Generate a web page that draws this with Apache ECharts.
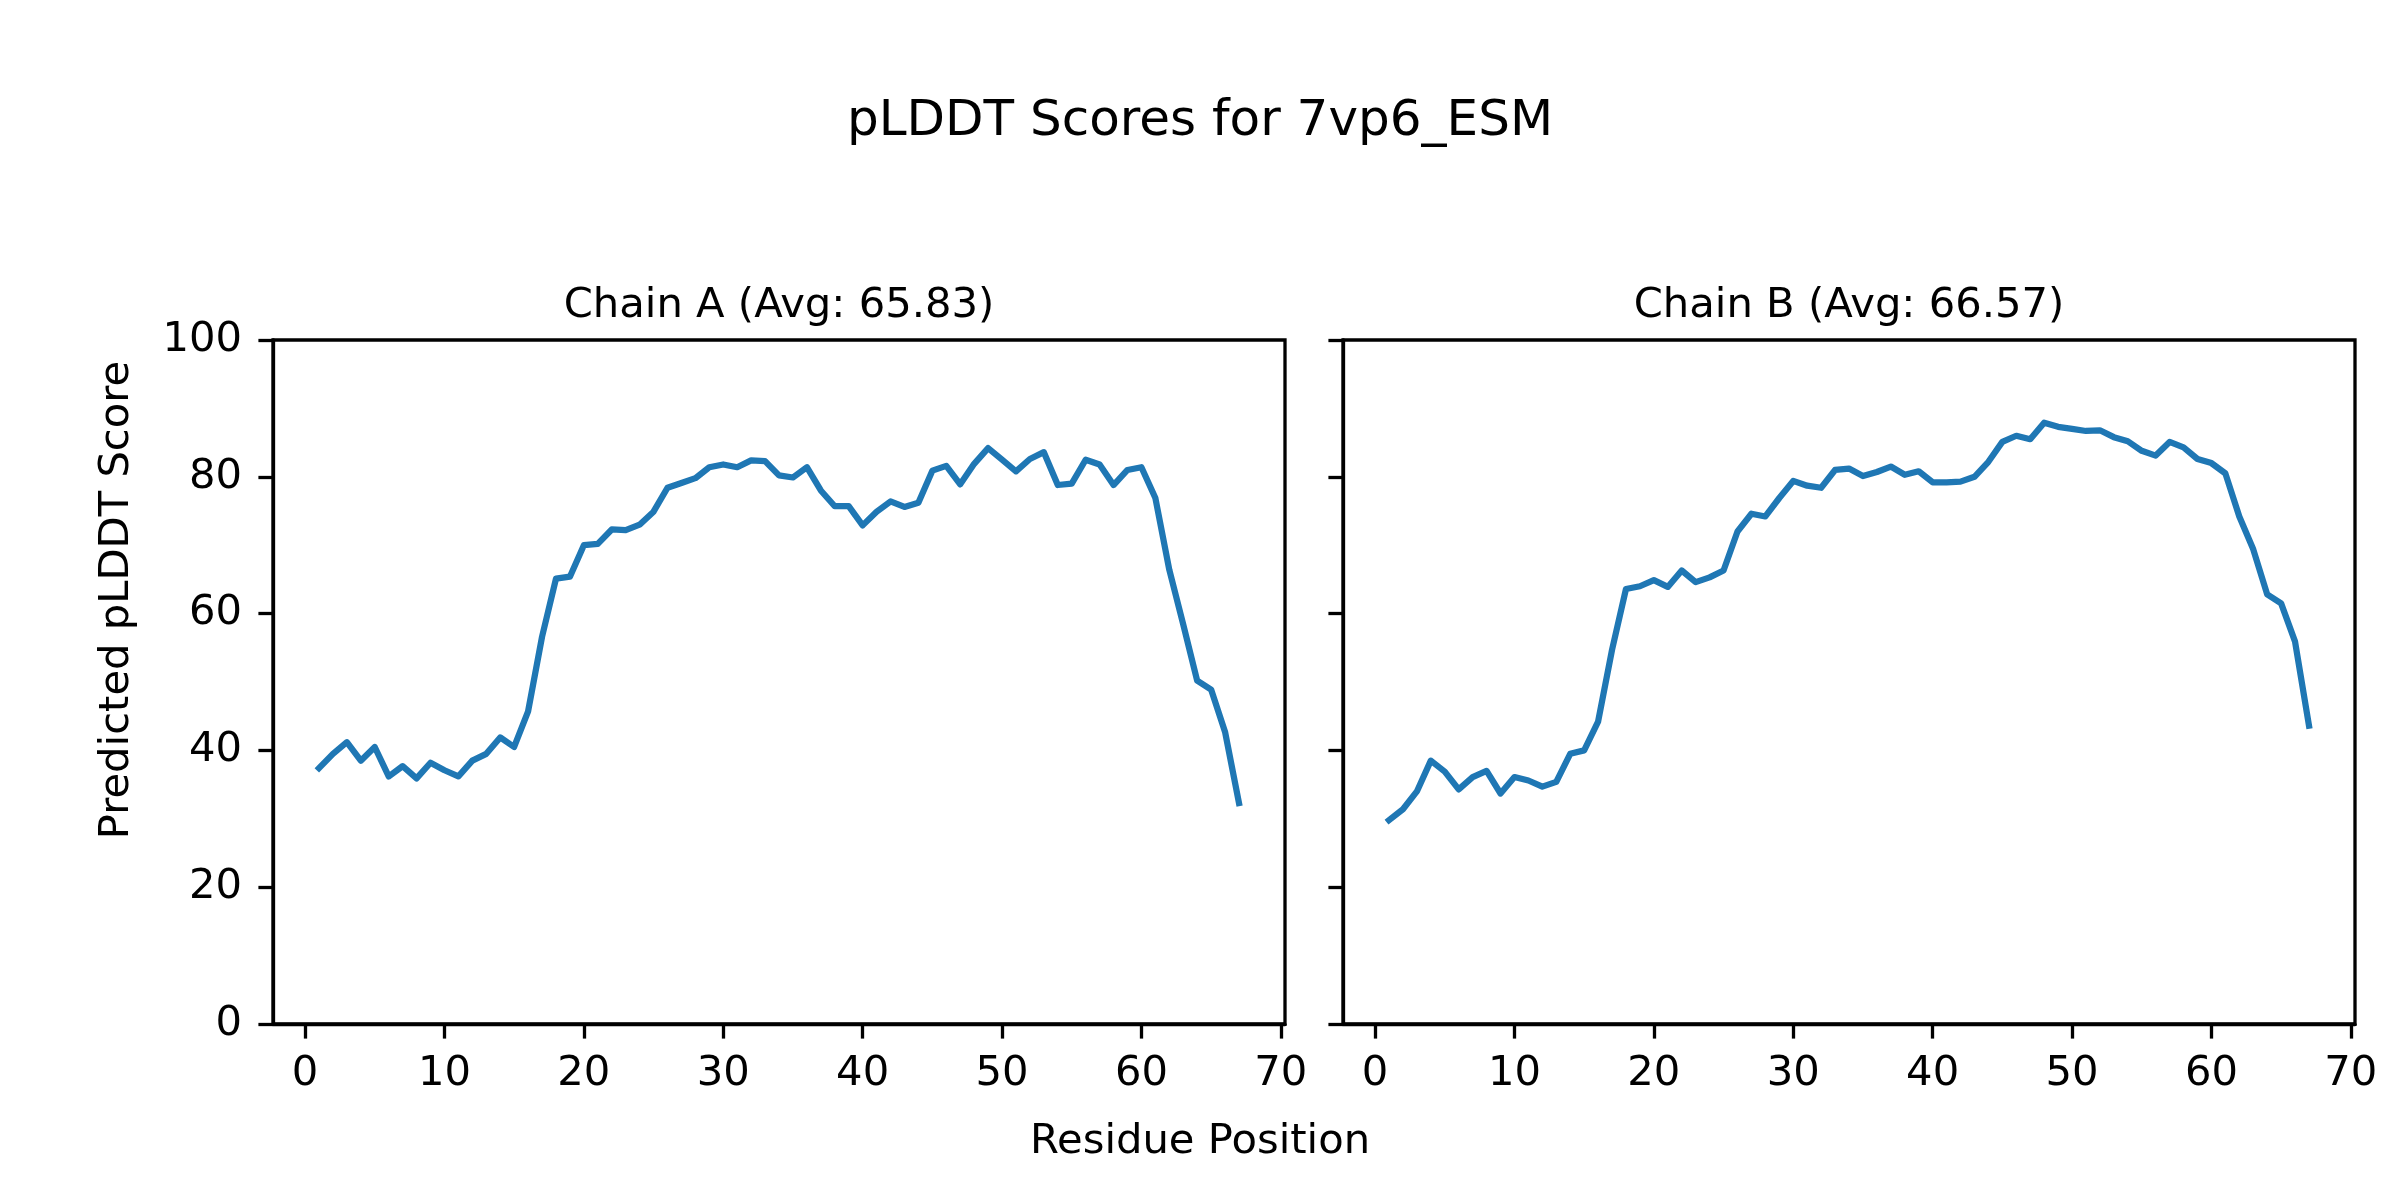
<!DOCTYPE html>
<html>
<head>
<meta charset="utf-8">
<script src="https://cdn.jsdelivr.net/npm/echarts@6/dist/echarts.min.js"></script>
<style>
html,body{margin:0;padding:0;background:#ffffff;}
#chart{width:2400px;height:1200px;}
</style>
</head>
<body>
<div id="chart"></div>
<script>
// ---------------- data ----------------
const residues = [1,2,3,4,5,6,7,8,9,10,11,12,13,14,15,16,17,18,19,20,21,22,23,24,25,26,27,28,29,30,31,32,33,34,35,36,37,38,39,40,41,42,43,44,45,46,47,48,49,50,51,52,53,54,55,56,57,58,59,60,61,62,63,64,65,66,67];

const chainA = [37.4,39.5,41.2,38.5,40.5,36.2,37.7,35.9,38.2,37.1,
                36.2,38.5,39.5,41.9,40.5,45.7,56.6,65.1,65.4,70.0,
                70.2,72.3,72.2,73.0,74.9,78.4,79.1,79.8,81.4,81.8,
                81.4,82.4,82.3,80.2,79.9,81.4,78.0,75.7,75.7,72.9,
                74.9,76.4,75.6,76.2,80.9,81.6,78.9,81.9,84.2,82.5,
                80.8,82.6,83.6,78.8,79.0,82.5,81.8,78.8,81.0,81.4,
                76.9,66.4,58.4,50.2,48.9,42.7,32.3];

const chainB = [29.8,31.4,34.0,38.5,36.9,34.3,36.1,37.0,33.7,36.1,
                35.6,34.7,35.4,39.5,40.0,44.2,54.7,63.6,64.0,64.9,
                63.9,66.3,64.6,65.3,66.3,72.0,74.6,74.2,76.9,79.4,
                78.7,78.4,81.0,81.2,80.1,80.7,81.5,80.3,80.8,79.2,
                79.2,79.3,80.0,82.2,85.1,86.0,85.5,87.9,87.3,87.0,
                86.7,86.8,85.8,85.2,83.8,83.1,85.1,84.3,82.6,82.0,
                80.5,74.2,69.4,62.8,61.5,55.9,43.6];

const xTicks = [0,10,20,30,40,50,60,70];
const yTicks = [0,20,40,60,80,100];

const figTitle = 'pLDDT Scores for 7vp6_ESM';
const panelTitles = ['Chain A (Avg: 65.83)', 'Chain B (Avg: 66.57)'];
const xLabel = 'Residue Position';
const yLabel = 'Predicted pLDDT Score';

// ---------------- style ----------------
const FONT = 'DejaVu Sans';
const LINE_COLOR = '#1f77b4';
const SPINE = 3.3;
const TICK_LEN = 14.6;
const TICK_FS = 41.7;

const gridLeft = [273, 1343];
const gridW = 1012;
const gridTop = 340;
const gridH = 684;

function pairs(xs, ys){ return xs.map((x,i)=>[x, ys[i]]); }

const grids = gridLeft.map(l => ({
  left: l, top: gridTop, width: gridW, height: gridH,
  show: true, borderColor: '#000', borderWidth: SPINE, backgroundColor: 'transparent',
  containLabel: false
}));

const xAxes = [0,1].map(i => ({
  type: 'value', gridIndex: i, min: -2.3, max: 70.3,
  splitLine: {show:false},
  axisLine: {show:true, onZero:false, lineStyle:{color:'#000', width:SPINE}},
  axisTick: {show:true, inside:false, length:TICK_LEN, customValues: xTicks, lineStyle:{color:'#000', width:SPINE}},
  axisLabel: {show:true, customValues: xTicks, margin: 29, color:'#000', fontFamily: FONT, fontSize: TICK_FS}
}));

const yAxes = [0,1].map(i => ({
  type: 'value', gridIndex: i, min: 0, max: 100, interval: 20,
  splitLine: {show:false},
  axisLine: {show:true, onZero:false, lineStyle:{color:'#000', width:SPINE}},
  axisTick: {show:true, inside:false, length:TICK_LEN, customValues: yTicks, lineStyle:{color:'#000', width:SPINE}},
  axisLabel: {show: i === 0, customValues: yTicks, margin: 31, color:'#000', fontFamily: FONT, fontSize: TICK_FS}
}));

const series = [chainA, chainB].map((d,i) => ({
  type: 'line', xAxisIndex: i, yAxisIndex: i,
  data: pairs(residues, d),
  showSymbol: false, symbol: 'none', smooth: false, animation: false,
  lineStyle: {color: LINE_COLOR, width: 6.25, cap: 'square', join: 'round'},
  itemStyle: {color: LINE_COLOR},
  z: 3
}));

function txt(text, x, y, fs, rot){
  return {
    type: 'text', x: x, y: y, rotation: rot || 0, z: 100,
    style: {text: text, fontFamily: FONT, fontSize: fs, fill: '#000', align: 'center', verticalAlign: 'middle'}
  };
}

const graphics = [
  txt(figTitle, 1200, 122, 50),
  txt(panelTitles[0], gridLeft[0] + gridW/2, 306, TICK_FS),
  txt(panelTitles[1], gridLeft[1] + gridW/2, 306, TICK_FS),
  txt(xLabel, 1200, 1142, TICK_FS),
  txt(yLabel, 117, 600, TICK_FS, Math.PI/2)
];

const chart = echarts.init(document.getElementById('chart'), null, {renderer:'canvas', width:2400, height:1200});
chart.setOption({
  animation: false,
  backgroundColor: '#ffffff',
  grid: grids,
  xAxis: xAxes,
  yAxis: yAxes,
  series: series,
  graphic: graphics
});
</script>
</body>
</html>
